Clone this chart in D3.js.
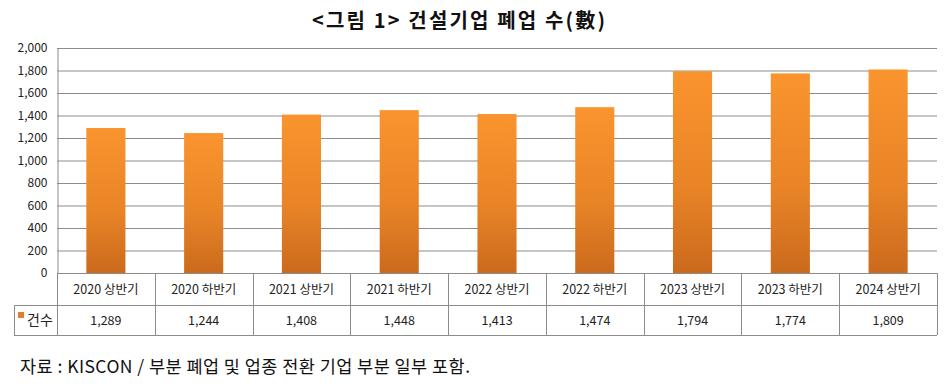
<!DOCTYPE html>
<html>
<head>
<meta charset="utf-8">
<script src="https://cdn.jsdelivr.net/npm/d3@7"></script>
<style>
  body { margin: 0; background: #fff; }
  svg text { font-family: "Noto Sans CJK KR", "Noto Sans", sans-serif; }
</style>
</head>
<body>
<svg id="chart" width="948" height="387"></svg>
<script>
const categories = ["2020 상반기", "2020 하반기", "2021 상반기", "2021 하반기", "2022 상반기",
                    "2022 하반기", "2023 상반기", "2023 하반기", "2024 상반기"];
const counts = [1289, 1244, 1408, 1448, 1413, 1474, 1794, 1774, 1809];
const yTicks = [0, 200, 400, 600, 800, 1000, 1200, 1400, 1600, 1800, 2000];
const seriesName = "건수";

const svg = d3.select("svg#chart");
const plotL = 57, plotR = 937, plotT = 48, plotB = 273;
const tableLeft = 14, row1 = 305, row2 = 335;

const x = d3.scaleBand().domain(categories).range([plotL, plotR]).paddingInner(0.6).paddingOuter(0.3);
const band = d3.scaleBand().domain(categories).range([plotL, plotR]);
const y = d3.scaleLinear().domain([0, 2000]).range([plotB, plotT]);
const fmt = d3.format(",");

const grad = svg.append("defs").append("linearGradient")
                .attr("id", "barGrad").attr("x1", 0).attr("y1", 0).attr("x2", 0).attr("y2", 1);
grad.append("stop").attr("offset", "0%").attr("stop-color", "#f9942e");
grad.append("stop").attr("offset", "55%").attr("stop-color", "#ea8527");
grad.append("stop").attr("offset", "100%").attr("stop-color", "#cb6a1d");

// title
svg.append("text")
   .attr("x", 312).attr("y", 28)
   .attr("font-size", 20).attr("font-weight", "bold")
   .attr("textLength", 293).attr("lengthAdjust", "spacing")
   .attr("fill", "#111")
   .text("<그림 1> 건설기업 폐업 수(數)");

// gridlines
svg.append("g").selectAll("line")
   .data(yTicks.filter(d => d > 0))
   .enter().append("line")
           .attr("x1", plotL).attr("x2", plotR)
           .attr("y1", d => y(d) + 0.5).attr("y2", d => y(d) + 0.5)
           .attr("stroke", "#8c8c8c").attr("stroke-width", 1);

// y axis
const yAxis = svg.append("g")
   .attr("transform", `translate(${plotL + 0.5},0)`)
   .call(d3.axisLeft(y).tickValues(yTicks).tickFormat(fmt).tickSize(0).tickPadding(10));
yAxis.select(".domain").attr("stroke", "#8c8c8c");
yAxis.selectAll("text").attr("font-size", 12).attr("fill", "#222")
     .style("font-family", "'Noto Sans CJK KR', sans-serif");

// bars
svg.append("g").selectAll("rect")
   .data(categories)
   .enter().append("rect")
           .attr("x", d => x(d))
           .attr("width", x.bandwidth())
           .attr("y", (d, i) => y(counts[i]))
           .attr("height", (d, i) => plotB - y(counts[i]))
           .attr("fill", "url(#barGrad)");

// data table
const tbl = svg.append("g").attr("stroke", "#8c8c8c").attr("stroke-width", 1).attr("fill", "none");
tbl.append("line").attr("x1", plotL).attr("x2", plotR).attr("y1", plotB + 0.5).attr("y2", plotB + 0.5);
tbl.append("line").attr("x1", tableLeft).attr("x2", plotR).attr("y1", row1 + 0.5).attr("y2", row1 + 0.5);
tbl.append("line").attr("x1", tableLeft).attr("x2", plotR).attr("y1", row2 + 0.5).attr("y2", row2 + 0.5);
tbl.append("line").attr("x1", tableLeft + 0.5).attr("x2", tableLeft + 0.5).attr("y1", row1).attr("y2", row2);
tbl.selectAll(".sep")
   .data(categories)
   .enter().append("line")
           .attr("class", "sep")
           .attr("x1", d => Math.round(band(d)) + 0.5).attr("x2", d => Math.round(band(d)) + 0.5)
           .attr("y1", plotB).attr("y2", row2);
tbl.append("line").attr("x1", plotR + 0.5).attr("x2", plotR + 0.5).attr("y1", plotB).attr("y2", row2);

svg.append("g").selectAll("text")
   .data(categories)
   .enter().append("text")
           .attr("x", d => band(d) + band.bandwidth() / 2)
           .attr("y", 294)
           .attr("text-anchor", "middle")
           .attr("font-size", 12.5).attr("fill", "#222")
           .text(d => d);

svg.append("g").selectAll("text")
   .data(counts)
   .enter().append("text")
           .attr("x", (d, i) => band(categories[i]) + band.bandwidth() / 2)
           .attr("y", 325)
           .attr("text-anchor", "middle")
           .attr("font-size", 12.5).attr("fill", "#222")
           .text(d => fmt(d));

// legend key
svg.append("rect").attr("x", 18).attr("y", 312).attr("width", 6).attr("height", 6).attr("fill", "#e57f25");
svg.append("text").attr("x", 27).attr("y", 325).attr("font-size", 14).attr("fill", "#222").text(seriesName);

// source note
svg.append("text")
   .attr("x", 20).attr("y", 373)
   .attr("font-size", 17.5).attr("fill", "#111")
   .attr("textLength", 450).attr("lengthAdjust", "spacing")
   .text("자료 : KISCON / 부분 폐업 및 업종 전환 기업 부분 일부 포함.");
</script>
</body>
</html>
